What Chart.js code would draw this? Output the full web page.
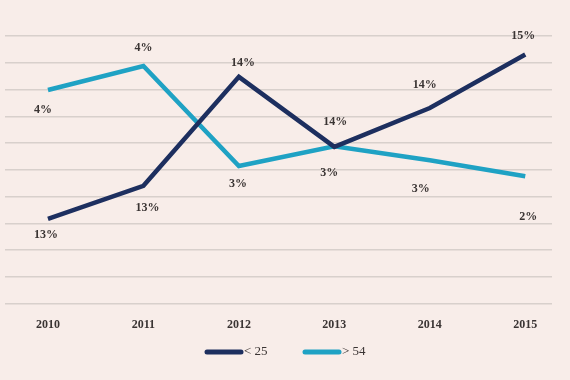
<!DOCTYPE html>
<html>
<head>
<meta charset="utf-8">
<script src="https://cdn.jsdelivr.net/npm/chart.js@4"></script>
<style>
  html, body { margin: 0; padding: 0; background: #f8ede9; }
  #wrap { width: 570px; height: 380px; }
</style>
</head>
<body>
<div id="wrap"><canvas id="chart" width="570" height="380"></canvas></div>
<script>
// values (each series has its own hidden scale)
var years = [2010, 2011, 2012, 2013, 2014, 2015];
var under25 = [12.87, 13.21, 14.33, 13.61, 14.01, 14.56];
var over54 = [3.99, 4.44, 2.57, 2.94, 2.68, 2.38];
var under25Labels = ['13%', '13%', '14%', '14%', '14%', '15%'];
var over54Labels = ['4%', '4%', '3%', '3%', '3%', '2%'];
var seriesNames = ['< 25', '> 54'];

// where each value label sits relative to its point
var under25Offsets = [[-2, 16], [4, 22], [4, -14], [1, -25], [-5, -23], [-2, -19]];
var over54Offsets = [[-5, 20], [0, -18], [-1, 18], [-5, 27], [-9, 29], [3, 41]];

var navy = '#1d2f5f';
var cyan = '#1fa2c4';
var serif = '"Liberation Serif", "DejaVu Serif", serif';

function points(vals) {
  return vals.map(function (v, i) { return { x: years[i], y: v }; });
}

var valueLabels = {
  id: 'valueLabels',
  afterDatasetsDraw: function (chart) {
    var ctx = chart.ctx;
    var texts = [under25Labels, over54Labels];
    var offs = [under25Offsets, over54Offsets];
    ctx.save();
    ctx.font = 'bold 12px ' + serif;
    ctx.fillStyle = '#3a3433';
    ctx.textAlign = 'center';
    ctx.textBaseline = 'middle';
    chart.data.datasets.forEach(function (ds, d) {
      chart.getDatasetMeta(d).data.forEach(function (pt, i) {
        ctx.fillText(texts[d][i], pt.x + offs[d][i][0], pt.y + offs[d][i][1]);
      });
    });
    ctx.restore();
  }
};

var lineLegend = {
  id: 'lineLegend',
  afterDraw: function (chart) {
    var ctx = chart.ctx;
    var y = 352;
    var starts = [205, 303];
    ctx.save();
    ctx.font = '13px ' + serif;
    ctx.textBaseline = 'middle';
    chart.data.datasets.forEach(function (ds, d) {
      var x = starts[d];
      ctx.strokeStyle = ds.borderColor;
      ctx.lineWidth = 5;
      ctx.lineCap = 'round';
      ctx.beginPath();
      ctx.moveTo(x + 2, y);
      ctx.lineTo(x + 36, y);
      ctx.stroke();
      ctx.fillStyle = '#3a3433';
      ctx.fillText(ds.label, x + 39, y);
    });
    ctx.restore();
  }
};

new Chart(document.getElementById('chart'), {
  type: 'line',
  data: {
    datasets: [{
      label: seriesNames[0],
      data: points(under25),
      borderColor: navy,
      borderWidth: 4.5,
      pointRadius: 0,
      tension: 0,
      yAxisID: 'y1'
    }, {
      label: seriesNames[1],
      data: points(over54),
      borderColor: cyan,
      borderWidth: 4.5,
      pointRadius: 0,
      tension: 0,
      yAxisID: 'y2'
    }]
  },
  options: {
    responsive: false,
    animation: false,
    layout: { padding: { left: 5, right: 18, top: 36, bottom: 42 } },
    plugins: {
      legend: { display: false },
      tooltip: { enabled: false }
    },
    scales: {
      x: {
        type: 'linear',
        min: 2009.55,
        max: 2015.28,
        grid: { display: false },
        border: { display: false },
        ticks: {
          stepSize: 1,
          includeBounds: false,
          padding: 6,
          color: '#3a3433',
          font: { family: serif, size: 12, weight: 'bold' },
          callback: function (v) {
            var i = years.indexOf(v);
            return i < 0 ? '' : String(years[i]);
          }
        }
      },
      y: {
        min: 0,
        max: 10,
        grid: { color: '#d8d0cc', lineWidth: 1.5, drawTicks: false },
        border: { display: false },
        ticks: { display: false, stepSize: 1 }
      },
      y1: { display: false, min: 12, max: 14.75 },
      y2: { display: false, min: 0, max: 5 }
    }
  },
  plugins: [valueLabels, lineLegend]
});
</script>
</body>
</html>
